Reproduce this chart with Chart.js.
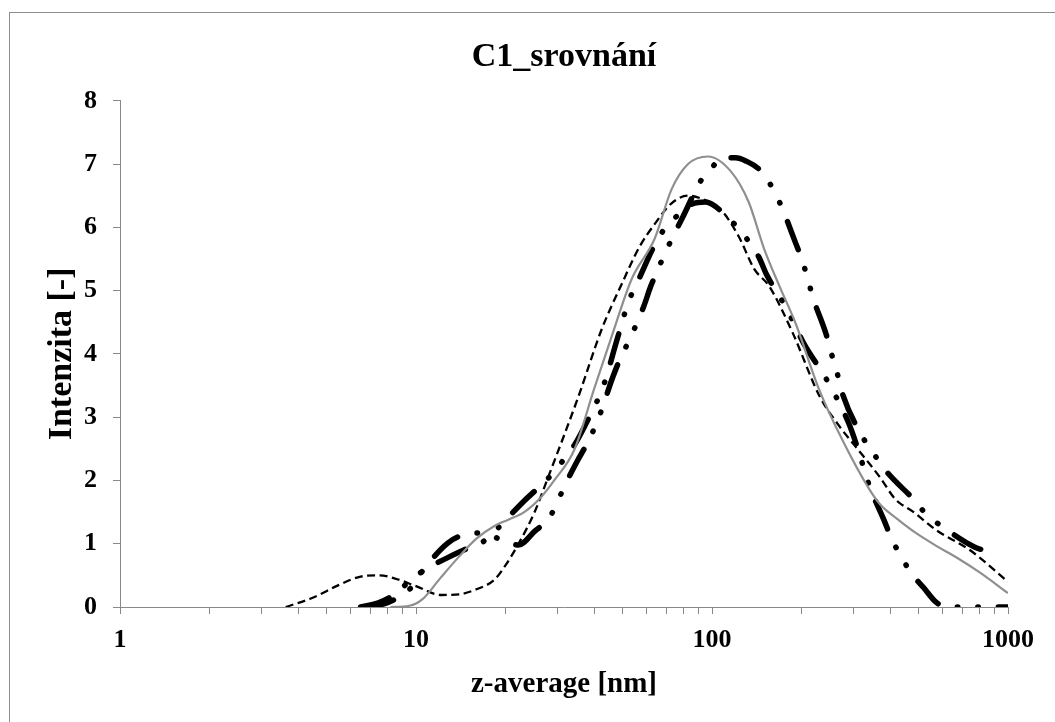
<!DOCTYPE html>
<html lang="cs">

<head>
    <meta charset="UTF-8">
    <title>C1_srovnání</title>
    <style>
        body {
            margin: 0;
            overflow: hidden;
            background: #ffffff;
        }

        #frame {
            position: absolute;
            left: 9px;
            top: 12px;
            width: 1200px;
            height: 900px;
            border: 1px solid #8c8c8c;
        }

        #chart {
            position: absolute;
            left: 0;
            top: 0;
        }
    </style>
    <script src="https://cdn.jsdelivr.net/npm/chart.js"></script>
</head>

<body>
    <div id="frame"></div>
    <canvas id="chart" width="1055" height="722"></canvas>

    <script>
        // values (x = z-average in nm, y = intensity)
        const grayX = [8.2, 9.5, 10.5, 12.1, 14, 16, 18.4, 20.5, 23.2, 26.5, 29.3, 34.3, 40, 46, 53.5, 64, 73, 83, 97, 116, 133, 150, 169, 191, 230, 275, 341, 370, 420, 488, 580, 666, 800, 1000];
        const grayY = [0, 0.02, 0.12, 0.46, 0.8, 1.08, 1.28, 1.38, 1.5, 1.74, 2.0, 2.49, 3.45, 4.3, 5.18, 5.82, 6.6, 7.0, 7.12, 6.88, 6.4, 5.66, 5.07, 4.5, 3.44, 2.65, 1.85, 1.62, 1.4, 1.17, 0.95, 0.79, 0.55, 0.22];

        const dashX = [3.63, 4.5, 5.5, 6.5, 7.5, 8.5, 10, 12.2, 14, 16, 18.4, 20, 22.2, 25.1, 28, 35.4, 42.4, 49.5, 57, 64, 73, 83, 97.7, 108, 123, 139, 156, 187, 231, 270, 305, 368, 417, 480, 570, 743, 1000];
        const dashY = [0, 0.15, 0.35, 0.48, 0.5, 0.45, 0.33, 0.19, 0.2, 0.28, 0.43, 0.65, 1.0, 1.49, 2.06, 3.33, 4.39, 5.1, 5.7, 6.05, 6.38, 6.5, 6.4, 6.26, 5.86, 5.34, 5.07, 4.34, 3.33, 2.85, 2.54, 2.06, 1.7, 1.5, 1.22, 0.9, 0.4];

        const thickAX = [6.5, 7.5, 8.6, 9.6, 11, 12.8, 14.5, 16.6, 18.4, 20.6, 23, 28.7, 31.2, 34.4, 38, 43, 47.6, 52.3, 56.6, 63, 68, 75, 83, 95, 110, 133, 144, 153, 179, 191, 205, 240, 258, 290, 310, 341, 383, 404, 437, 470, 520, 570, 620, 700, 1000];
        const thickAY = [0, 0.07, 0.22, 0.43, 0.62, 0.78, 0.9, 1.01, 1.19, 1.43, 1.66, 2.09, 2.3, 2.57, 2.95, 3.5, 4.2, 4.83, 5.18, 5.66, 5.93, 6.15, 6.34, 6.4, 6.21, 5.78, 5.53, 5.25, 4.71, 4.44, 4.15, 3.65, 3.39, 2.9, 2.52, 1.9, 1.35, 1.08, 0.79, 0.54, 0.3, 0.08, 0, 0, 0];

        const thickBX = [6.7, 7.8, 8.7, 9.6, 10.4, 12.8, 14.5, 16.9, 19, 22.2, 25.2, 28.2, 32.2, 35, 38, 41.5, 46.2, 49, 52.3, 58.8, 62, 66, 70, 80, 91.5, 101, 108, 120, 130, 147, 161, 172, 191, 202, 211, 220, 243, 253, 265, 275, 326, 357, 392, 480, 531, 600, 770, 889];
        const thickBY = [0, 0.05, 0.15, 0.3, 0.54, 1.01, 1.14, 1.17, 1.08, 0.98, 1.2, 1.41, 1.97, 2.3, 2.6, 3.0, 3.63, 3.93, 4.2, 4.75, 5.06, 5.36, 5.63, 6.18, 6.73, 6.97, 7.1, 7.1, 7.05, 6.88, 6.6, 6.32, 5.77, 5.47, 5.17, 4.87, 4.31, 4.01, 3.69, 3.39, 2.65, 2.38, 2.12, 1.7, 1.46, 1.27, 0.95, 0.86];

        // tick marks on the log axis, only the decades get a label
        const xTicks = [1, 2, 3, 4, 5, 6, 7, 8, 9, 10, 20, 30, 40, 50, 60, 70, 80, 90, 100, 200, 300, 400, 500, 600, 700, 800, 900, 1000];
        const xLabels = [1, 10, 100, 1000];

        const serif = "'Liberation Serif', 'Times New Roman', serif";

        function points(xs, ys) {
            return xs.map((x, i) => ({ x: x, y: ys[i] }));
        }

        function createChart() {
            const ctx = document.getElementById('chart').getContext('2d');
            new Chart(ctx, {
                type: 'line',
                data: {
                    datasets: [
                        {
                            data: points(grayX, grayY),
                            borderColor: '#8f8f8f',
                            borderWidth: 2.2
                        },
                        {
                            data: points(dashX, dashY),
                            borderColor: '#000000',
                            borderWidth: 2.3,
                            borderDash: [8, 4.5]
                        },
                        {
                            data: points(thickAX, thickAY),
                            borderColor: '#000000',
                            borderWidth: 5.5,
                            borderCapStyle: 'round',
                            borderDash: [30, 20, 0.5, 20, 0.5, 20]
                        },
                        {
                            data: points(thickBX, thickBY),
                            borderColor: '#000000',
                            borderWidth: 5.5,
                            borderCapStyle: 'round',
                            borderDash: [30, 20, 0.5, 20, 0.5, 20]
                        }
                    ]
                },
                options: {
                    responsive: false,
                    animation: false,
                    devicePixelRatio: 1,
                    cubicInterpolationMode: 'monotone',
                    pointRadius: 0,
                    layout: {
                        padding: { left: 0, top: 0, right: 47, bottom: 0 }
                    },
                    plugins: {
                        legend: { display: false },
                        tooltip: { enabled: false },
                        title: {
                            display: true,
                            fullSize: false,
                            text: 'C1_srovnání',
                            color: '#000000',
                            font: { family: serif, size: 34, weight: 'bold' },
                            padding: { top: 37, bottom: 23 }
                        }
                    },
                    scales: {
                        x: {
                            type: 'logarithmic',
                            min: 1,
                            max: 1000,
                            afterFit: (scale) => { scale.height = 115; },
                            afterBuildTicks: (scale) => {
                                scale.ticks = xTicks.map((v) => ({ value: v, major: xLabels.includes(v) }));
                            },
                            border: { color: '#898989', width: 1 },
                            grid: {
                                drawOnChartArea: false,
                                color: '#898989',
                                tickLength: 7
                            },
                            ticks: {
                                autoSkip: false,
                                maxRotation: 0,
                                padding: 11,
                                color: '#000000',
                                font: { family: serif, size: 26, weight: 'bold' },
                                callback: (value) => xLabels.includes(value) ? String(value) : ''
                            },
                            title: {
                                display: true,
                                text: 'z-average [nm]',
                                color: '#000000',
                                font: { family: serif, size: 29, weight: 'bold' },
                                padding: { top: 0, bottom: 20 }
                            }
                        },
                        y: {
                            min: 0,
                            max: 8,
                            afterFit: (scale) => { scale.width = 120; },
                            border: { color: '#898989', width: 1 },
                            grid: {
                                drawOnChartArea: false,
                                color: '#898989',
                                tickLength: 7
                            },
                            ticks: {
                                stepSize: 1,
                                padding: 16,
                                color: '#000000',
                                font: { family: serif, size: 26, weight: 'bold' }
                            },
                            title: {
                                display: true,
                                text: 'Intenzita [-]',
                                color: '#000000',
                                font: { family: serif, size: 34, weight: 'bold' },
                                padding: { top: 42, bottom: 0 }
                            }
                        }
                    }
                }
            });
        }

        window.onload = function () {
            createChart();
        };
    </script>

</body>

</html>
